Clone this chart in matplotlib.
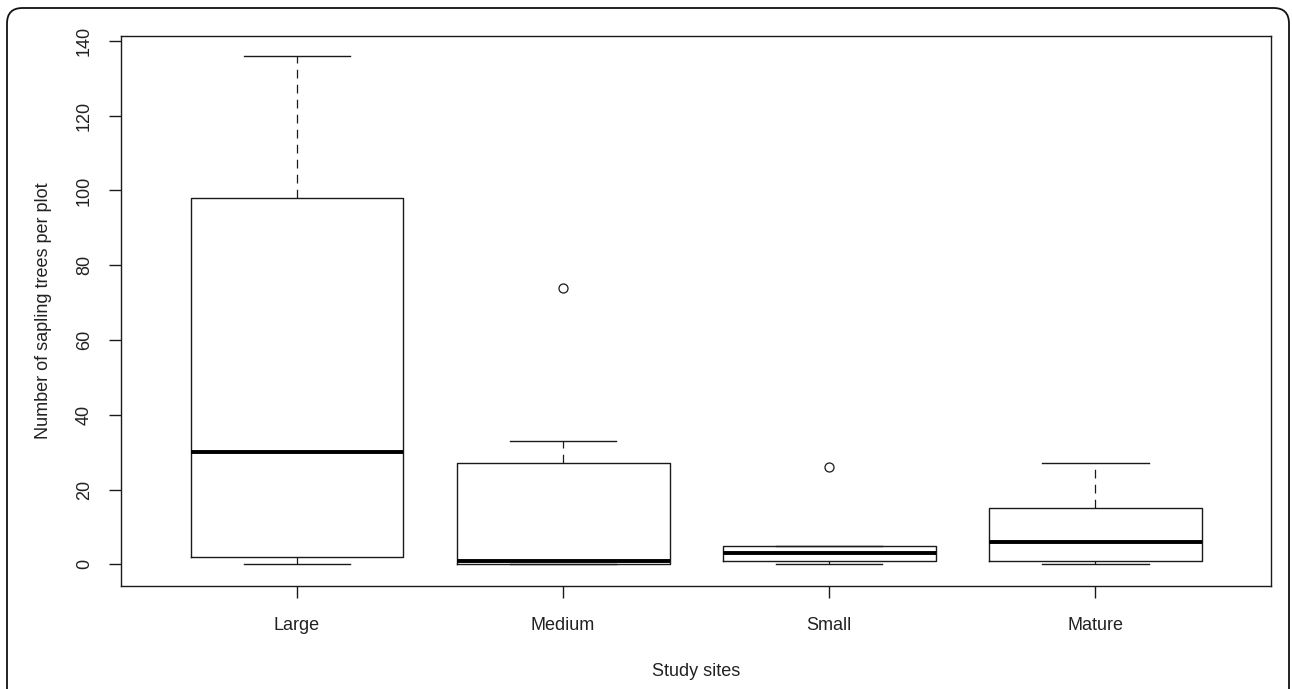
import matplotlib
matplotlib.use("Agg")
import matplotlib.pyplot as plt
from matplotlib.patches import FancyBboxPatch

# Summary statistics per study site (sapling trees per plot)
sites = ["Large", "Medium", "Small", "Mature"]
whisker_low = [0, 0, 0, 0]
q1 = [2, 0, 1, 1]
medians = [30, 1, 3, 6]
q3 = [98, 27, 5, 15]
whisker_high = [136, 33, 5, 27]
outliers = [[], [74], [26], []]

y_ticks = [0, 20, 40, 60, 80, 100, 120, 140]

plt.rcParams["font.family"] = ["Liberation Sans", "DejaVu Sans"]

fig = plt.figure(figsize=(12.92, 6.89), dpi=100)
ax = fig.add_axes([0.0939, 0.1499, 0.8898, 0.7983])

stats = []
for i, name in enumerate(sites):
    stats.append(dict(
        label=name, whislo=whisker_low[i], q1=q1[i], med=medians[i],
        q3=q3[i], whishi=whisker_high[i], fliers=outliers[i],
    ))

lc = "#1a1a1a"
ax.bxp(
    stats,
    positions=range(1, len(sites) + 1),
    widths=0.8,
    capwidths=0.4,
    boxprops=dict(color=lc, linewidth=1.0),
    medianprops=dict(color="black", linewidth=2.8, solid_capstyle="butt"),
    whiskerprops=dict(color=lc, linewidth=0.9, linestyle=(0, (7, 5))),
    capprops=dict(color=lc, linewidth=1.0),
    flierprops=dict(marker="o", markersize=6.5, markerfacecolor="none",
                    markeredgecolor=lc, markeredgewidth=0.9),
)

ax.set_xlim(0.34, 4.66)
ax.set_ylim(-5.7, 141.4)
ax.set_yticks(y_ticks)
ax.set_yticklabels([str(v) for v in y_ticks], rotation=90, va="center")
ax.set_xticks(range(1, len(sites) + 1))
ax.set_xticklabels(sites)

for s in ax.spines.values():
    s.set_color(lc)
    s.set_linewidth(1.0)
ax.tick_params(axis="both", length=8.5, width=1.0, color=lc,
               labelsize=13, labelcolor="#222222")
ax.tick_params(axis="y", pad=12)
ax.tick_params(axis="x", pad=14)

ax.set_xlabel("Study sites", fontsize=13, color="#222222", labelpad=21)
ax.set_ylabel("Number of sapling trees per plot", fontsize=13,
              color="#222222", labelpad=17)

# rounded outer frame, open at the bottom edge
frame = FancyBboxPatch((7 / 1292, -0.2), 1282 / 1292, 1.2 - 8 / 689,
                       boxstyle="round,pad=0,rounding_size=0.012",
                       transform=fig.transFigure, fill=False,
                       edgecolor="#111111", linewidth=1.3,
                       mutation_aspect=1292 / 689)
fig.patches.append(frame)

fig.savefig("out.png", dpi=100)
